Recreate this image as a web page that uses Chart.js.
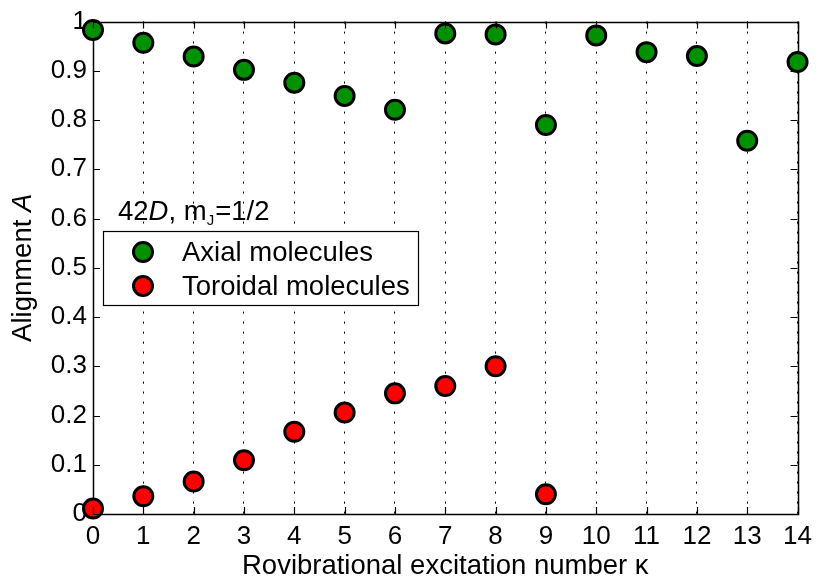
<!DOCTYPE html>
<html>
<head>
<meta charset="utf-8">
<script src="https://cdn.jsdelivr.net/npm/chart.js@4/dist/chart.umd.min.js"></script>
<style>
html,body{margin:0;padding:0;background:#fff;}
#wrap{width:819px;height:579px;position:relative;}
</style>
</head>
<body>
<div id="wrap"><canvas id="c" width="819" height="579"></canvas></div>
<script>
// ---- data ----
const kappaAxial = [0,1,2,3,4,5,6,7,8,9,10,11,12,13,14];
const axialValues = [0.983,0.957,0.929,0.902,0.876,0.849,0.821,0.976,0.974,0.790,0.972,0.938,0.930,0.758,0.918];
const kappaToroidal = [0,1,2,3,4,5,6,7,8,9];
const toroidalValues = [0.011,0.036,0.066,0.109,0.167,0.206,0.245,0.260,0.300,0.040];
const seriesNames = ['Axial molecules','Toroidal molecules'];
const xTickLabels = ['0','1','2','3','4','5','6','7','8','9','10','11','12','13','14'];
const yTickLabels = ['0','0.1','0.2','0.3','0.4','0.5','0.6','0.7','0.8','0.9','1'];

const FONT = "'Liberation Sans', Arial, Helvetica, sans-serif";
const FS_TICK = 26;
const FS = 27.5;

function pts(xs, ys){ return xs.map((x,i)=>({x:x,y:ys[i]})); }

const frame = {
  id:'frame',
  afterDraw(chart){
    const ctx = chart.ctx, a = chart.chartArea;
    const xs = chart.scales.x, ys = chart.scales.y;
    ctx.save();
    ctx.strokeStyle = '#000';
    ctx.lineWidth = 1.2;
    ctx.setLineDash([]);
    const tl = 7;
    ctx.beginPath();
    xs.ticks.forEach(t=>{
      const px = Math.round(xs.getPixelForValue(t.value))+0.5;
      ctx.moveTo(px,a.bottom); ctx.lineTo(px,a.bottom-tl);
      ctx.moveTo(px,a.top); ctx.lineTo(px,a.top+tl);
    });
    ys.ticks.forEach(t=>{
      const py = Math.round(ys.getPixelForValue(t.value))+0.5;
      ctx.moveTo(a.left,py); ctx.lineTo(a.left+tl,py);
      ctx.moveTo(a.right,py); ctx.lineTo(a.right-tl,py);
    });
    ctx.stroke();
    ctx.restore();
  },
  beforeDatasetsDraw(chart){
    const ctx = chart.ctx, a = chart.chartArea;
    ctx.save();
    ctx.strokeStyle = '#000';
    ctx.lineWidth = 1.5;
    ctx.strokeRect(Math.round(a.left)+0.5, Math.round(a.top)+0.5, Math.round(a.right-a.left), Math.round(a.bottom-a.top));
    ctx.restore();
  }
};

const texts = {
  id:'texts',
  afterDraw(chart){
    const ctx = chart.ctx, a = chart.chartArea;
    ctx.save();
    ctx.fillStyle = '#000';
    // x title
    ctx.font = FS+'px '+FONT;
    ctx.textBaseline = 'alphabetic';
    const t1 = 'Rovibrational excitation number ';
    const k = '\u03BA';
    const w1 = ctx.measureText(t1).width, wk = ctx.measureText(k).width;
    let sx = (a.left+a.right)/2 - (w1+wk)/2;
    ctx.fillText(t1, sx, 574);
    ctx.fillText(k, sx+w1, 574);
    // y title
    ctx.save();
    ctx.translate(31,(a.top+a.bottom)/2);
    ctx.rotate(-Math.PI/2);
    ctx.font = FS+'px '+FONT;
    const y1 = 'Alignment ';
    const wy1 = ctx.measureText(y1).width;
    ctx.font = 'italic '+FS+'px '+FONT;
    const wy2 = ctx.measureText('A').width;
    ctx.font = FS+'px '+FONT;
    ctx.fillText(y1, -(wy1+wy2)/2, 0);
    ctx.font = 'italic '+FS+'px '+FONT;
    ctx.fillText('A', -(wy1+wy2)/2+wy1, 0);
    ctx.restore();
    // annotation 42D, m_J=1/2
    let ax = a.left+25, ay = 220;
    ctx.font = FS+'px '+FONT;
    ctx.fillText('42', ax, ay); ax += ctx.measureText('42').width;
    ctx.font = 'italic '+FS+'px '+FONT;
    ctx.fillText('D', ax, ay); ax += ctx.measureText('D').width;
    ctx.font = FS+'px '+FONT;
    ctx.fillText(', m', ax, ay); ax += ctx.measureText(', m').width;
    ctx.font = Math.round(FS*0.55)+'px '+FONT;
    ctx.fillText('J', ax, ay+5); ax += ctx.measureText('J').width+1;
    ctx.font = FS+'px '+FONT;
    ctx.fillText('=1/2', ax, ay);
    // legend box
    const lx = a.left+10, ly = 231, lw = 315, lh = 74;
    ctx.fillStyle = '#fff';
    ctx.fillRect(lx, ly, lw, lh);
    ctx.strokeStyle = '#000'; ctx.lineWidth = 1.2;
    ctx.strokeRect(Math.round(lx)+0.5, ly+0.5, lw, lh);
    chart.data.datasets.forEach((ds,i)=>{
      const cy = ly + 21 + i*34;
      ctx.beginPath();
      ctx.arc(lx+40, cy, ds.pointRadius, 0, Math.PI*2);
      ctx.fillStyle = ds.backgroundColor; ctx.fill();
      ctx.lineWidth = ds.borderWidth; ctx.strokeStyle = ds.borderColor; ctx.stroke();
      ctx.fillStyle = '#000';
      ctx.font = FS+'px '+FONT;
      ctx.textBaseline = 'middle';
      ctx.fillText(ds.label, lx+79, cy+1);
    });
    ctx.restore();
  }
};

new Chart(document.getElementById('c'), {
  type:'scatter',
  data:{
    datasets:[
      {label:seriesNames[0], data:pts(kappaAxial, axialValues), backgroundColor:'#009000', borderColor:'#000', borderWidth:3, pointRadius:9.5, pointHoverRadius:9.5, clip:false},
      {label:seriesNames[1], data:pts(kappaToroidal, toroidalValues), backgroundColor:'#ff0000', borderColor:'#000', borderWidth:3, pointRadius:9.5, pointHoverRadius:9.5, clip:false}
    ]
  },
  options:{
    responsive:false,
    animation:false,
    events:[],
    layout:{padding:{top:21,right:17,left:0,bottom:0}},
    plugins:{legend:{display:false}, tooltip:{enabled:false}},
    scales:{
      x:{
        type:'linear', min:0, max:14,
        afterFit(s){ s.height = 65; },
        afterBuildTicks(s){ s.ticks = xTickLabels.map((l,i)=>({value:i})); },
        ticks:{autoSkip:false, maxRotation:0, padding:7, color:'#000', font:{family:FONT,size:FS_TICK}, callback:(v,i)=>xTickLabels[i]},
        grid:{display:true, drawTicks:false, color:'#000', lineWidth:1},
        border:{display:false, dash:[2,8]}
      },
      y:{
        type:'linear', min:0, max:1,
        afterFit(s){ s.width = 93; },
        afterBuildTicks(s){ s.ticks = yTickLabels.map((l,i)=>({value:i/10})); },
        ticks:{autoSkip:false, padding:6, color:'#000', font:{family:FONT,size:FS_TICK}, callback:(v,i)=>yTickLabels[i]},
        grid:{display:false, drawTicks:false},
        border:{display:false}
      }
    }
  },
  plugins:[frame, texts]
});
</script>
</body>
</html>
